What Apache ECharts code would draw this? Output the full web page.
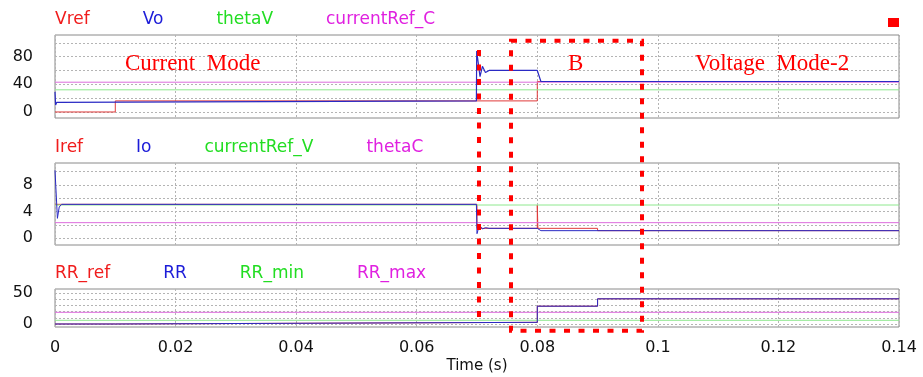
<!DOCTYPE html>
<html>
<head>
<meta charset="utf-8">
<script src="https://cdn.jsdelivr.net/npm/echarts@6/dist/echarts.min.js"></script>
<style>
  html, body { margin: 0; background: #fff; }
  #chart { width: 923px; height: 377px; }
</style>
</head>
<body>
<div id="chart"></div>
<script>
// time in s, value
const vref = [[0, 0], [0.01, 0], [0.01, 16], [0.08, 16], [0.08, 44], [0.14, 44]];
const vo = [[0, 29], [0.0001, 10], [0.0003, 14], [0.0006, 16], [0.0699, 16], [0.06995, 88], [0.0705, 51],
  [0.0709, 66], [0.0714, 57], [0.072, 60], [0.08, 60], [0.0806, 44], [0.14, 44]];
const thetaV = [[0, 32], [0.14, 32]];
const currentRefC = [[0, 43], [0.14, 43]];

const iref = [[0, 5.1], [0.07, 5.1], [0.07, 1.5], [0.08, 1.5], [0.08, 5.0], [0.0801, 1.5], [0.09, 1.5],
  [0.09, 1.15], [0.14, 1.15]];
const io = [[0, 10.2], [0.0004, 3.0], [0.0007, 4.7], [0.0011, 5.1], [0.0699, 5.1], [0.07, 0.7], [0.0704, 2.0],
  [0.0709, 1.4], [0.0714, 1.6], [0.072, 1.5], [0.08, 1.5], [0.0806, 1.15], [0.14, 1.15]];
const currentRefV = [[0, 5.0], [0.14, 5.0]];
const thetaC = [[0, 2.35], [0.14, 2.35]];

const rrRef = [[0, 0], [0.01, 0], [0.01, 2.7], [0.08, 2.7], [0.08, 29], [0.09, 29], [0.09, 41], [0.14, 41]];
const rr = [[0, 0], [0.01, 0], [0.01, 2.7], [0.08, 2.7], [0.08, 29], [0.09, 29], [0.09, 41], [0.14, 41]];
const rrMin = [[0, 6], [0.14, 6]];
const rrMax = [[0, 19], [0.14, 19]];

const yGrid1 = [0, 20, 40, 60, 80, 100];
const yLabels1 = [0, 40, 80];
const yGrid2 = [0, 2, 4, 6, 8, 10];
const yLabels2 = [0, 4, 8];
const yGrid3 = [0, 10, 20, 30, 40, 50];
const yLabels3 = [0, 50];

const legend1 = ['Vref', 'Vo', 'thetaV', 'currentRef_C'];
const legend2 = ['Iref', 'Io', 'currentRef_V', 'thetaC'];
const legend3 = ['RR_ref', 'RR', 'RR_min', 'RR_max'];

const textColors = ['#f01c1c', '#1c1cd8', '#22dd22', '#e020e0'];
const lineColors = ['#e03a3a', '#2a2ac4', '#8ee88e', '#dd6ddd'];

const chart = echarts.init(document.getElementById('chart'));

const FONT = 'DejaVu Sans';
const splitStyle = { lineStyle: { color: '#b4b4b4', type: [2, 2], width: 1 } };

const makeLegend = (top, names) => ({
  top: top,
  left: 45,
  icon: 'none',
  itemWidth: 0,
  itemHeight: 0,
  itemGap: 48,
  selectedMode: false,
  textStyle: { fontFamily: FONT, fontSize: 17 },
  data: names.map((n, i) => ({ name: n, textStyle: { color: textColors[i] } })),
});

const makeX = (grid, showLabel) => ({
  type: 'value',
  gridIndex: grid,
  min: 0,
  max: 0.14,
  interval: 0.02,
  axisLine: { show: false },
  axisTick: { show: false },
  axisLabel: {
    show: showLabel,
    margin: 13,
    color: '#111',
    fontFamily: FONT,
    fontSize: 16,
  },
  splitLine: Object.assign({ show: true }, splitStyle),
  name: showLabel ? 'Time (s)' : '',
  nameLocation: 'middle',
  nameGap: 32,
  nameTextStyle: { color: '#111', fontFamily: FONT, fontSize: 15 },
});

const makeY = (grid, min, max, ticks, labels) => ({
  type: 'value',
  gridIndex: grid,
  min: min,
  max: max,
  axisLine: { show: false },
  axisTick: { show: false, customValues: ticks },
  axisLabel: {
    customValues: labels,
    margin: 22,
    color: '#111',
    fontFamily: FONT,
    fontSize: 16,
  },
  splitLine: Object.assign({ show: true }, splitStyle),
});

const makeSeries = (name, data, idx, colorIdx, width) => ({
  name: name,
  type: 'line',
  xAxisIndex: idx,
  yAxisIndex: idx,
  data: data,
  showSymbol: false,
  symbol: 'none',
  lineStyle: { color: lineColors[colorIdx], width: width || 1 },
  itemStyle: { color: lineColors[colorIdx] },
});

const option = {
  animation: false,
  backgroundColor: '#fff',
  legend: [makeLegend(6, legend1), makeLegend(134, legend2), makeLegend(260, legend3)],
  grid: [
    { left: 55, right: 24, top: 35, height: 83, show: true, borderColor: '#8a8a8a', borderWidth: 1 },
    { left: 55, right: 24, top: 163, height: 82, show: true, borderColor: '#8a8a8a', borderWidth: 1 },
    { left: 55, right: 24, top: 289, height: 38, show: true, borderColor: '#8a8a8a', borderWidth: 1 },
  ],
  xAxis: [makeX(0, false), makeX(1, false), makeX(2, true)],
  yAxis: [
    makeY(0, -8.7, 111.2, yGrid1, yLabels1),
    makeY(1, -1.0, 11.3, yGrid2, yLabels2),
    makeY(2, -4.9, 57, yGrid3, yLabels3),
  ],
  series: [
    makeSeries('Vref', vref, 0, 0),
    makeSeries('thetaV', thetaV, 0, 2),
    makeSeries('currentRef_C', currentRefC, 0, 3),
    makeSeries('Vo', vo, 0, 1, 1.2),
    makeSeries('Iref', iref, 1, 0),
    makeSeries('currentRef_V', currentRefV, 1, 2),
    makeSeries('thetaC', thetaC, 1, 3),
    makeSeries('Io', io, 1, 1),
    makeSeries('RR_ref', rrRef, 2, 0),
    makeSeries('RR_min', rrMin, 2, 2),
    makeSeries('RR_max', rrMax, 2, 3),
    makeSeries('RR', rr, 2, 1),
  ],
};

chart.setOption(option);

// annotations (placed in data coordinates)
const px = (g, t, v) => chart.convertToPixel({ gridIndex: g }, [t, v]);
const serif = { fill: '#ff0000', fontFamily: 'Liberation Serif', fontSize: 23, verticalAlign: 'middle' };
const dash = { fill: 'none', stroke: '#ff0000', lineWidth: 4, lineDash: [6, 8.5] };

const p1 = px(0, 0.01161, 69);
const p2 = px(0, 0.0851, 69);
const p3 = px(0, 0.10616, 69);
const lTop = px(0, 0.07033, 89.5);
const lBot = px(2, 0.07033, 1.6);
const rTL = px(0, 0.07564, 103);
const rBR = px(2, 0.09737, -10.9);

chart.setOption({
  graphic: [
    { type: 'text', x: p1[0], y: p1[1], style: Object.assign({ text: 'Current  Mode' }, serif) },
    { type: 'text', x: p2[0], y: p2[1], style: Object.assign({ text: 'B' }, serif) },
    { type: 'text', x: p3[0], y: p3[1], style: Object.assign({ text: 'Voltage  Mode-2' }, serif) },
    { type: 'line', shape: { x1: lTop[0], y1: lTop[1], x2: lBot[0], y2: lBot[1] }, style: dash, z: 100 },
    { type: 'rect', shape: { x: rTL[0], y: rTL[1], width: rBR[0] - rTL[0], height: rBR[1] - rTL[1] }, style: dash, z: 100 },
    { type: 'rect', right: 24, top: 18, shape: { width: 11, height: 9 }, style: { fill: '#ff0000' } },
  ],
});
</script>
</body>
</html>
